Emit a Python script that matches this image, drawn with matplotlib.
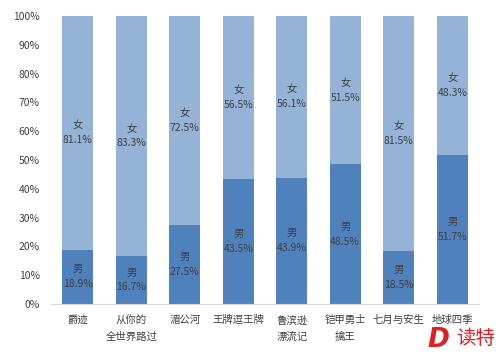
import matplotlib
matplotlib.use("Agg")
import matplotlib.pyplot as plt
import numpy as np

plt.rcParams["font.family"] = ["Noto Sans CJK SC", "DejaVu Sans"]

films = ["爵迹", "从你的\n全世界路过", "湄公河", "王牌逗王牌", "鲁滨逊\n漂流记",
         "铠甲勇士\n擒王", "七月与安生", "地球四季"]
male = [18.9, 16.7, 27.5, 43.5, 43.9, 48.5, 18.5, 51.7]
female = [81.1, 83.3, 72.5, 56.5, 56.1, 51.5, 81.5, 48.3]

MALE_COLOR = "#4F81BD"
FEMALE_COLOR = "#95B3D7"
TEXT = "#404040"

fig = plt.figure(figsize=(5.0, 3.56), dpi=100)
ax = fig.add_axes([0.102, 0.146, 0.856, 0.809])

x = np.arange(len(films))
w = 0.58
ax.bar(x, male, w, color=MALE_COLOR)
ax.bar(x, female, w, bottom=male, color=FEMALE_COLOR)

for xi, m, f in zip(x, male, female):
    ax.text(xi, m / 2, f"男\n{m}%", ha="center", va="center",
            fontsize=7.5, color=TEXT, linespacing=1.6)
    ax.text(xi, m + f / 2, f"女\n{f}%", ha="center", va="center",
            fontsize=7.5, color=TEXT, linespacing=1.6)

ax.set_xlim(-0.5, len(films) - 0.5)
ax.set_ylim(0, 100)
ax.set_yticks(np.arange(0, 101, 10))
ax.set_yticklabels([f"{v}%" for v in range(0, 101, 10)])
ax.set_xticks(x)
ax.set_xticklabels(films, linespacing=1.8)
ax.tick_params(axis="both", length=0, labelsize=7.5, colors=TEXT)
ax.tick_params(axis="x", pad=8)
ax.tick_params(axis="y", pad=8)

for side in ["top", "right", "left"]:
    ax.spines[side].set_visible(False)
ax.spines["bottom"].set_color("#d9d9d9")

# watermark
fig.text(0.855, 0.025, "D", color="#e02020", fontsize=19, fontweight="bold",
         style="italic", family="DejaVu Sans")
fig.text(0.912, 0.035, "读特", color="#e02020", fontsize=14)

fig.savefig("out.png", dpi=100)
